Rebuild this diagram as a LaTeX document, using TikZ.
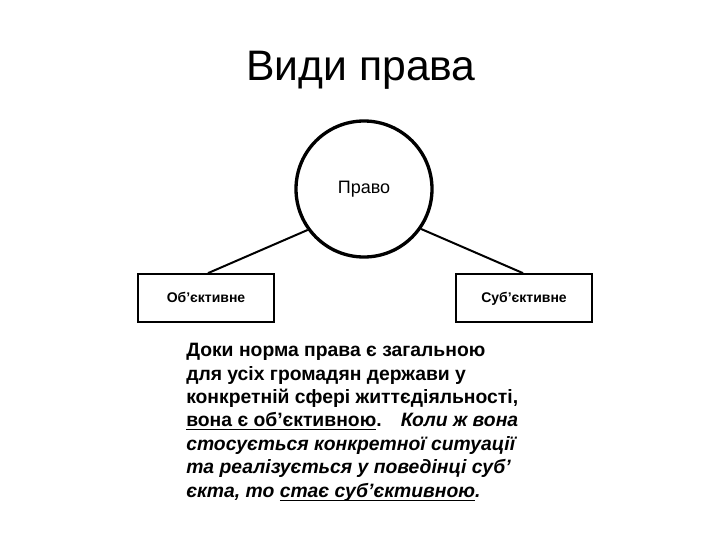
\documentclass[tikz,border=0pt]{standalone}
\usepackage{fontspec}
\setmainfont{Liberation Sans}
\newcommand{\myul}[1]{{\setbox0\hbox{#1}\rlap{\rule[-2.6pt]{\wd0}{0.9pt}}\box0}}
\begin{document}
\begin{tikzpicture}[x=0.75pt,y=-0.75pt,
  bx/.style={draw,line width=1.3pt,minimum width=102pt,minimum height=36pt,inner sep=0pt,text height=1.6ex,text depth=0.3ex,font=\fontsize{10.5}{12}\selectfont\bfseries},
  conn/.style={line width=1.5pt}]
\useasboundingbox (0,0) rectangle (720,540);
\node (title) at (361,70) {\fontsize{32}{36}\selectfont Види права};
\node[circle,draw,line width=2.5pt,minimum size=102pt,inner sep=0pt,font=\fontsize{13.5}{16}\selectfont] (pravo) at (364,189) {Право};
\node[bx] (obj) at (206,298) {Об'єктивне};
\node[bx] (sub) at (524,298) {Суб'єктивне};
\draw[conn] (pravo.216) -- ([xshift=1.5pt]obj.north);
\draw[conn] (pravo.-35) -- ([xshift=-0.75pt]sub.north);
\node[anchor=north west,align=left,inner sep=0pt,font=\fontsize{14.5}{17.6}\selectfont\bfseries] (txt) at (186,343) {%
Доки норма права є загальною\\
для усіх громадян держави у\\
конкретній сфері життєдіяльності,\\
\myul{вона є об’єктивною}.\quad \itshape Коли ж вона\\
\itshape стосується конкретної ситуації\\
\itshape та реалізується у поведінці суб’\\
\itshape єкта, то \myul{стає суб’єктивною}.};
\end{tikzpicture}
\end{document}
